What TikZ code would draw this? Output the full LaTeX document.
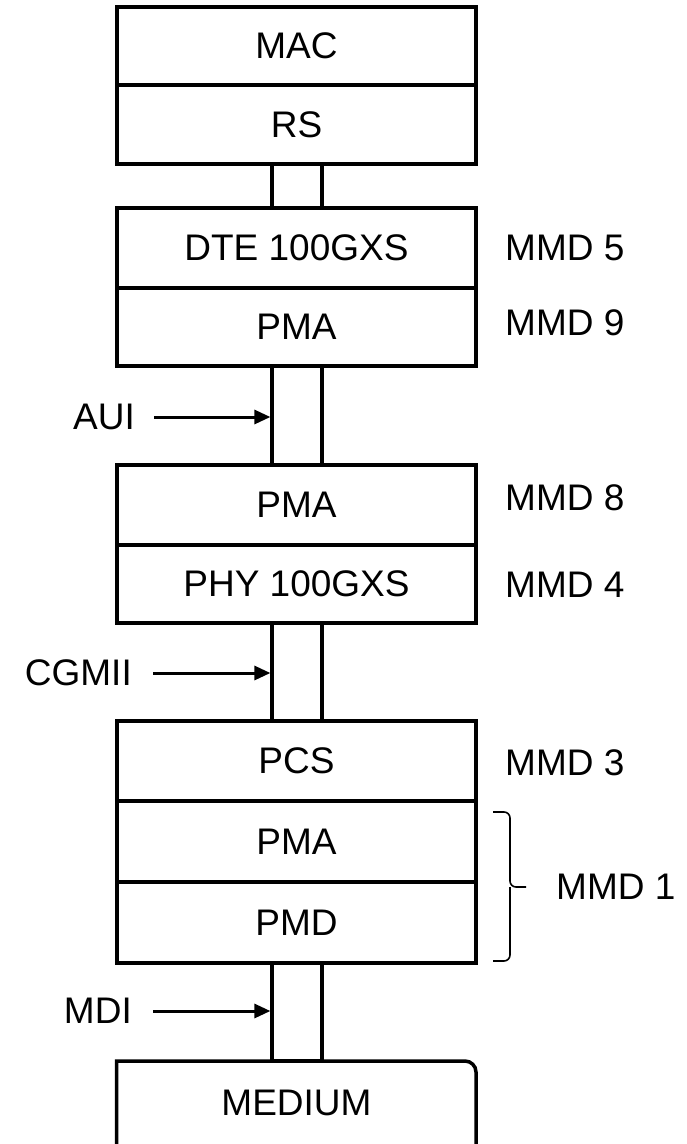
\documentclass[tikz,border=0pt]{standalone}
\usepackage{fontspec}
\setmainfont{Liberation Sans}
\usetikzlibrary{arrows.meta}
\begin{document}
\begin{tikzpicture}[x=1pt,y=-1pt,
  txt/.style={font=\fontsize{37}{44}\selectfont, inner sep=0pt},
  layer/.style={draw, line width=3.5pt, rectangle, minimum width=359pt, inner sep=0pt, font=\fontsize{37}{44}\selectfont},
  conn/.style={draw, line width=3.2pt, rectangle, minimum width=50pt, inner sep=0pt, fill=white},
  lbl/.style={txt, anchor=east},
  rlbl/.style={txt, anchor=west},
  arr/.style={line width=3pt, -{Triangle[length=16pt,width=14pt]}}
]
\useasboundingbox (0,0) rectangle (687,1144);
\clip (0,0) rectangle (687,1144);
% layer boxes
\node[layer, minimum height=78pt] (mac) at (296.5,46) {MAC};
\node[layer, minimum height=79pt] (rs) at (296.5,124.5) {RS};
\node[layer, minimum height=80pt] (dte) at (296.5,248) {DTE 100GXS};
\node[layer, minimum height=78pt] (pmaA) at (296.5,327) {PMA};
\node[layer, minimum height=80pt] (pmaB) at (296.5,505) {PMA};
\node[layer, minimum height=78pt] (phy) at (296.5,584) {PHY 100GXS};
\node[layer, minimum height=80pt] (pcs) at (296.5,761) {PCS};
\node[layer, minimum height=81pt] (pmaC) at (296.5,841.5) {PMA};
\node[layer, minimum height=81pt] (pmd) at (296.5,922.5) {PMD};
% medium
\draw[line width=3.5pt] (116.5,1180) -- (116.5,1061) [rounded corners=11pt] -- (476,1061) -- (476,1180);
\node[txt] (medium) at (296.5,1103) {MEDIUM};
% connectors
\node[conn, minimum height=44pt] (c1) at (297,186) {};
\node[conn, minimum height=99pt] (aui) at (297,415.5) {};
\node[conn, minimum height=98pt] (cgmii) at (297,672) {};
\node[conn, minimum height=98pt] (mdi) at (297,1012) {};
% left labels and arrows
\node[lbl] (lAUI) at (135,417) {AUI};
\node[lbl] (lCGMII) at (132,673) {CGMII};
\node[lbl] (lMDI) at (132,1011) {MDI};
\draw[arr] ([xshift=19pt]lAUI.east) -- (lAUI.east -| aui.west);
\draw[arr] ([xshift=21pt]lCGMII.east) -- (lCGMII.east -| cgmii.west);
\draw[arr] ([xshift=21pt]lMDI.east) -- (lMDI.east -| mdi.west);
% right labels
\node[rlbl] (m5) at (505,248) {MMD 5};
\node[rlbl] (m9) at (505,323) {MMD 9};
\node[rlbl] (m8) at (505,498) {MMD 8};
\node[rlbl] (m4) at (505,585) {MMD 4};
\node[rlbl] (m3) at (505,763) {MMD 3};
% brace
\coordinate (bt) at (493,812);
\coordinate (bb) at (493,961);
\coordinate (bm) at (526,887);
\draw[line width=1.6pt, rounded corners=6pt] (bt) -- (510,812) -- (510,887) -- (bm);
\draw[line width=1.6pt, rounded corners=6pt] (bb) -- (510,961) -- (510,887);
\node[rlbl] (m1) at (556,887) {MMD 1};
\end{tikzpicture}
\end{document}
